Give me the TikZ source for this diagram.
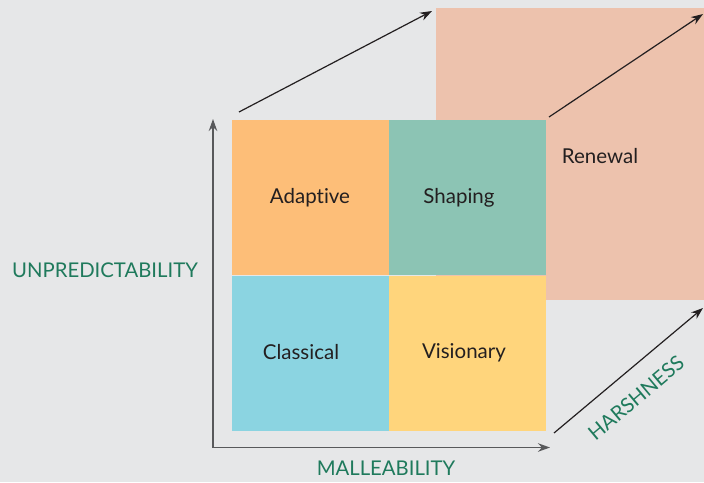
\documentclass[tikz,border=0pt]{standalone}
\usepackage{fontspec}
\setmainfont{Lato}[Ligatures={NoCommon,NoRare}]
\usepackage{xcolor}
\usetikzlibrary{arrows.meta}
\definecolor{Paper}{HTML}{E6E7E8}
\definecolor{Adapt}{HTML}{FDBE78}
\definecolor{Shape}{HTML}{8CC4B4}
\definecolor{Classic}{HTML}{8BD4E1}
\definecolor{Vision}{HTML}{FFD57C}
\definecolor{Renew}{HTML}{EDC2AD}
\definecolor{AxisGreen}{HTML}{1F7A5C}
\definecolor{Ink}{HTML}{231F20}
\definecolor{AxisGray}{HTML}{58595B}

\begin{document}
\begin{tikzpicture}[x=1pt,y=-1pt]
      \tikzstyle{cell}=[draw=none, inner sep=0pt, minimum width=157pt, minimum height=155pt]
      \tikzstyle{word}=[text=Ink, font=\fontsize{20.5}{24}\selectfont]
      \tikzstyle{axislabel}=[text=AxisGreen, font=\fontsize{20.3}{24}\selectfont]
      \tikzstyle{axis}=[-{Stealth[length=12pt,width=8.5pt]}, line width=1.4pt, color=AxisGray]
      \tikzstyle{move}=[-{Stealth[length=12pt,width=8.5pt]}, line width=1.2pt, color=Ink]
      % page
      \fill[Paper] (0,0) rectangle (704,482);
      \useasboundingbox (0,0) rectangle (704,482);
      % renewal block behind the grid
      \node[fill=Renew, draw=none, inner sep=0pt, minimum width=268pt, minimum height=292pt] (ren) at (570,154) {};
      \node[word] (renT) at (600,156) {Renewal};
      % the four quadrants
      \node[cell, fill=Adapt] (ad) at (310.5,197.5) {};
      \node[cell, fill=Shape] (sh) at (467.5,197.5) {};
      \node[cell, fill=Classic] (cl) at (310.5,353.5) {};
      \node[cell, fill=Vision] (vi) at (467.5,353.5) {};
      \node[word] (adT) at (310,198) {Adaptive};
      \node[word] (shT) at (459,198) {Shaping};
      \node[word] (clT) at (301,352) {Classical};
      \node[word] (viT) at (464,353) {Visionary};
      % axes
      \coordinate (o) at (213,447.5);
      \coordinate (yend) at (213,119);
      \coordinate (xend) at (550,447.5);
      \draw[axis] (o) -- (yend);
      \draw[axis] (o) -- (xend);
      \node[axislabel] (unp) at (105,270) {UNPREDICTABILITY};
      \node[axislabel] (mal) at (386,468) {MALLEABILITY};
      % diagonal arrows
      \coordinate (a1) at (239,112);
      \coordinate (b1) at (432,11);
      \coordinate (a2) at (549,117);
      \coordinate (b2) at (703,14);
      \coordinate (a3) at (554,433);
      \coordinate (b3) at (703,308);
      \draw[move] (a1) -- (b1);
      \draw[move] (a2) -- (b2);
      \draw[move] (a3) -- (b3);
      \node[axislabel, rotate=40] (har) at (636,398) {HARSHNESS};
    \end{tikzpicture}
\end{document}
